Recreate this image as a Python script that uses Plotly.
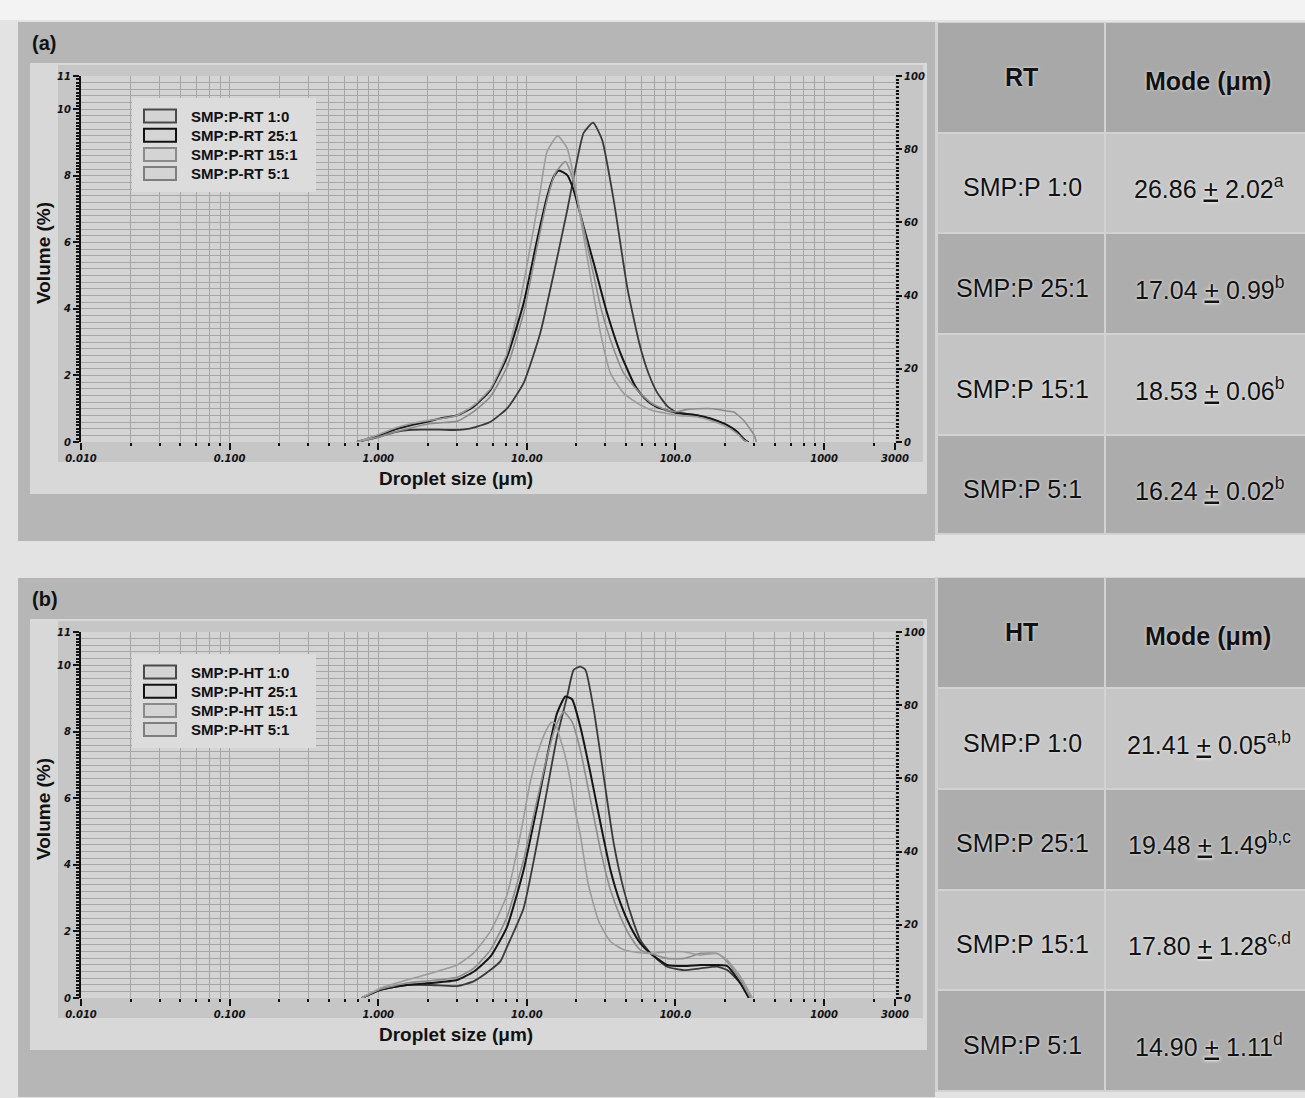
import numpy as np
import plotly.graph_objects as go

W, H = 1305, 1098

# ---------------- data ----------------
series_names = ["1:0", "25:1", "15:1", "5:1"]

# Panel (a) RT droplet size distributions (x: um, y: volume %)
rt_10_x = [0.72, 1.0, 1.3, 1.6, 2.0, 2.6, 3.2, 3.8, 4.5, 5.7, 7.4, 9.5, 12.3, 15.2, 18.7, 21.8, 24.1, 27.9,
           32.1, 38.4, 47.3, 53, 58, 66, 75, 88, 103, 140, 172, 223, 260, 289, 312]
rt_10_y = [0, 0.15, 0.3, 0.36, 0.37, 0.37, 0.36, 0.38, 0.45, 0.61, 1.02, 1.77, 3.27, 5.08, 6.97, 8.48, 9.29, 9.6,
           9.08, 7.27, 4.66, 3.6, 2.85, 2.05, 1.5, 1.08, 0.88, 0.81, 0.71, 0.51, 0.31, 0.06, 0]

rt_251_x = [0.72, 1.0, 1.3, 1.65, 2.2, 2.62, 3.4, 4.38, 5.68, 7.36, 9.51, 11.72, 13.68, 15.15, 16.37, 18.66,
            20.65, 24.1, 28.2, 34.7, 42.6, 52.4, 58, 66, 75, 88, 100, 140, 172, 223, 260, 290, 305]
rt_251_y = [0, 0.2, 0.38, 0.5, 0.62, 0.71, 0.8, 1.06, 1.56, 2.56, 4.17, 6.07, 7.37, 7.97, 8.16, 8.03,
            7.57, 6.47, 5.37, 3.87, 2.67, 1.76, 1.46, 1.2, 1.05, 0.95, 0.88, 0.8, 0.7, 0.5, 0.3, 0.08, 0]

rt_151_x = [0.72, 1.0, 1.3, 1.65, 2.2, 2.62, 3.4, 4.38, 5.68, 7.36, 9.51, 11.72, 13.68, 15.56, 18.16, 20.15,
            22.9, 26.8, 31.3, 36.5, 44.9, 58, 70, 88, 103, 120, 140, 180, 223, 247, 289, 339, 350]
rt_151_y = [0, 0.15, 0.3, 0.42, 0.55, 0.58, 0.62, 0.91, 1.36, 2.26, 3.87, 5.87, 7.27, 8.08, 8.43, 7.97,
            6.87, 5.47, 4.07, 3.07, 2.06, 1.46, 1.15, 0.95, 0.91, 0.98, 1.0, 1.0, 0.93, 0.9, 0.64, 0.2, 0]

rt_51_x = [0.72, 1.0, 1.3, 1.65, 2.2, 2.62, 3.4, 4.38, 5.68, 7.36, 9.04, 10.56, 12.33, 13.68, 16.11, 18.66,
           20.65, 22.9, 26.8, 31.3, 36.5, 44.9, 58, 70, 90, 103, 140, 172, 223, 260, 290, 305]
rt_51_y = [0, 0.22, 0.42, 0.55, 0.65, 0.7, 0.8, 1.1, 1.6, 2.67, 4.27, 5.87, 7.57, 8.73, 9.2, 8.83,
           7.97, 6.77, 4.97, 3.27, 2.07, 1.46, 1.11, 0.95, 0.85, 0.8, 0.75, 0.65, 0.45, 0.25, 0.05, 0]

# Panel (b) HT droplet size distributions
ht_10_x = [0.776, 1.03, 1.56, 2.24, 3.39, 4.38, 5.68, 6.63, 7.36, 9.51, 11.72, 13.68, 15.97, 18.66, 20.65,
           22.9, 24.8, 28.2, 32.9, 38.4, 44.9, 52.4, 58.1, 68, 88, 114, 147, 191, 223, 274, 312]
ht_10_y = [0, 0.24, 0.39, 0.39, 0.36, 0.5, 0.84, 1.1, 1.54, 2.7, 4.65, 6.25, 7.85, 9.06, 9.86,
           9.96, 9.86, 8.66, 6.65, 4.65, 3.25, 2.25, 1.74, 1.34, 0.94, 0.84, 0.89, 0.94, 0.84, 0.44, 0]

ht_251_x = [0.776, 1.03, 1.56, 2.24, 3.39, 4.38, 5.68, 7.36, 9.51, 11.72, 13.68, 15.97, 18.16, 20.15, 22.9,
            26.8, 31.3, 36.5, 42.6, 49.8, 58.1, 68, 88, 114, 147, 191, 223, 274, 312]
ht_251_y = [0, 0.24, 0.39, 0.45, 0.54, 0.79, 1.24, 2.14, 3.85, 5.75, 7.25, 8.56, 9.06, 8.98, 8.15,
            6.75, 5.25, 3.85, 2.85, 2.14, 1.64, 1.34, 0.99, 0.96, 0.99, 0.99, 0.96, 0.44, 0]

ht_151_x = [0.776, 1.03, 1.56, 2.24, 3.39, 4.38, 5.68, 7.36, 9.51, 11.72, 13.68, 15.56, 17.7, 20.15, 22.9,
            26.8, 31.3, 36.5, 42.6, 49.8, 58.1, 68, 88, 114, 147, 191, 223, 274, 320]
ht_151_y = [0, 0.26, 0.45, 0.52, 0.62, 0.89, 1.44, 2.44, 4.15, 5.95, 7.25, 8.15, 8.6, 8.3, 7.45,
            5.95, 4.45, 3.25, 2.44, 1.84, 1.44, 1.34, 1.19, 1.19, 1.34, 1.34, 1.09, 0.54, 0]

ht_51_x = [0.776, 1.03, 1.56, 2.24, 3.39, 4.38, 5.68, 7.36, 9.04, 10.56, 12.2, 13.7, 14.6, 15.5, 16.6, 17.8,
           19.5, 21.2, 22.9, 25.8, 30.5, 36.5, 44.9, 58, 68, 88, 114, 147, 191, 223, 274, 329]
ht_51_y = [0, 0.29, 0.54, 0.74, 0.99, 1.35, 2.0, 3.1, 4.9, 6.5, 7.55, 8.1, 8.28, 8.26, 7.85, 7.4,
           6.6, 5.6, 4.9, 3.45, 2.3, 1.7, 1.45, 1.36, 1.34, 1.39, 1.39, 1.29, 1.34, 1.14, 0.64, 0]

# Axis tick labels
x_tick_vals = [0.01, 0.1, 1, 10, 100, 1000, 3000]
x_tick_text = ["0.010", "0.100", "1.000", "10.00", "100.0", "1000", "3000"]
y_tick_vals = [0, 2, 4, 6, 8, 10, 11]
y_tick_text = ["0", "2", "4", "6", "8", "10", "11"]
y2_tick_vals = [0, 20, 40, 60, 80, 100]
y2_tick_text = ["0", "20", "40", "60", "80", "100"]

# Tables
rt_rows = ["SMP:P 1:0", "SMP:P 25:1", "SMP:P 15:1", "SMP:P 5:1"]
rt_mode = [26.86, 17.04, 18.53, 16.24]
rt_sd = [2.02, 0.99, 0.06, 0.02]
rt_sig = ["a", "b", "b", "b"]
ht_rows = ["SMP:P 1:0", "SMP:P 25:1", "SMP:P 15:1", "SMP:P 5:1"]
ht_mode = [21.41, 19.48, 17.80, 14.90]
ht_sd = [0.05, 1.49, 1.28, 1.11]
ht_sig = ["a,b", "b,c", "c,d", "d"]

# ---------------- styling ----------------
line_colors = ["#3a3a3a", "#151515", "#8c8c8c", "#9c9c9c"]
line_widths = [1.8, 2.0, 1.6, 1.6]
legend_box_colors = ["#4a4a4a", "#111111", "#8a8a8a", "#7e7e7e"]
grid_col = "#a6a6a6"
ink = "#111111"
tickfont = dict(family="DejaVu Sans", size=10, color=ink, weight="bold", style="italic")


def X(p):
    return p / W


def Y(p):
    return 1 - p / H


fig = go.Figure()

panels = [
    dict(xa="x", ya="y", y2="y2", y3="y3", data=[(rt_10_x, rt_10_y), (rt_251_x, rt_251_y),
                                                  (rt_151_x, rt_151_y), (rt_51_x, rt_51_y)], tag="RT"),
    dict(xa="x2", ya="y4", y2="y5", y3="y6", data=[(ht_10_x, ht_10_y), (ht_251_x, ht_251_y),
                                                    (ht_151_x, ht_151_y), (ht_51_x, ht_51_y)], tag="HT"),
]

for p in panels:
    for i, (xs, ys) in enumerate(p["data"]):
        fig.add_trace(go.Scatter(x=xs, y=ys, mode="lines", xaxis=p["xa"], yaxis=p["ya"],
                                 line=dict(color=line_colors[i], width=line_widths[i],
                                           shape="spline", smoothing=0.5),
                                 name=f"SMP:P-{p['tag']} {series_names[i]}", showlegend=False,
                                 hoverinfo="skip"))
    for ax in (p["y2"], p["y3"]):
        fig.add_trace(go.Scatter(x=[None], y=[None], xaxis=p["xa"], yaxis=ax, showlegend=False,
                                 hoverinfo="skip", mode="lines"))

# minor vertical grid positions (instrument-style spacing inside each decade)
x_minor = []
for d in range(-2, 4):
    for k in range(2, 8):
        v = 10 ** (d + np.log10(k) / np.log10(8))
        if v < 3000:
            x_minor.append(v)


def xaxis_cfg(domain_px):
    return dict(type="log", range=[-2, np.log10(3000)], domain=[X(domain_px[0]), X(domain_px[1])],
                tickmode="array", tickvals=x_tick_vals, ticktext=x_tick_text,
                ticks="outside", ticklen=7, tickwidth=1.5, tickcolor=ink, automargin=False,
                showgrid=True, gridcolor=grid_col, gridwidth=1, showline=False, zeroline=False,
                tickfont=tickfont, fixedrange=True,
                minor=dict(tickmode="array", tickvals=x_minor, ticks="outside", ticklen=3, tickwidth=2,
                           tickcolor=ink, showgrid=True, gridcolor=grid_col, gridwidth=1))


def yleft_cfg(top_px, bot_px, anchor):
    return dict(range=[0, 11], domain=[Y(bot_px), Y(top_px)], anchor=anchor,
                tickmode="array", tickvals=y_tick_vals, ticktext=y_tick_text, automargin=False,
                ticks="outside", ticklen=6, tickwidth=1.5, tickcolor=ink,
                showgrid=False, zeroline=False, showline=True, linecolor=ink, linewidth=2,
                tickfont=tickfont, fixedrange=True,
                minor=dict(tickmode="linear", tick0=0, dtick=0.1, ticks="outside", ticklen=3,
                           tickwidth=1.5, tickcolor=ink, showgrid=False))


def yright_cfg(over, anchor):
    return dict(range=[0, 100], overlaying=over, side="right", anchor=anchor, automargin=False,
                tickmode="array", tickvals=y2_tick_vals, ticktext=y2_tick_text,
                ticks="outside", ticklen=6, tickwidth=1.5, tickcolor=ink,
                showgrid=False, zeroline=False, showline=False, tickfont=tickfont, fixedrange=True,
                minor=dict(tickmode="linear", tick0=0, dtick=1, ticks="outside", ticklen=3,
                           tickwidth=2, tickcolor=ink, showgrid=False))


def ygrid_cfg(over, anchor):
    return dict(range=[0, 11], overlaying=over, side="left", anchor=anchor, automargin=False,
                tickmode="linear", tick0=0, dtick=0.2, ticks="", showticklabels=False,
                showgrid=True, gridcolor=grid_col, gridwidth=1, zeroline=False, showline=False,
                fixedrange=True)


fig.update_layout(
    width=W, height=H, margin=dict(l=0, r=0, t=0, b=0, pad=0, autoexpand=False),
    paper_bgcolor="#e3e3e3", plot_bgcolor="rgba(0,0,0,0)", showlegend=False,
    xaxis=xaxis_cfg((81, 895)),
    xaxis2=dict(xaxis_cfg((81, 895)), anchor="y4"),
    yaxis=yleft_cfg(76, 442, "x"),
    yaxis2=yright_cfg("y", "x"),
    yaxis3=ygrid_cfg("y", "x"),
    yaxis4=yleft_cfg(632, 998, "x2"),
    yaxis5=yright_cfg("y4", "x2"),
    yaxis6=ygrid_cfg("y4", "x2"),
)
fig.layout.xaxis.anchor = "y"

shapes = []
annotations = []


def rect(x0, y0, x1, y1, fill, line_color=None, line_width=0, layer="below"):
    shapes.append(dict(type="rect", xref="paper", yref="paper", x0=X(x0), x1=X(x1), y0=Y(y1), y1=Y(y0),
                       fillcolor=fill, layer=layer,
                       line=dict(color=line_color or fill, width=line_width)))


def text(x, y, s, size, bold=False, color=ink, xanchor="center", yanchor="middle", angle=0,
         family="Liberation Sans, Arial, sans-serif", shadow=None):
    f = dict(family=family, size=size, color=color, weight="bold" if bold else "normal")
    if shadow:
        f["shadow"] = shadow
    annotations.append(dict(x=X(x), y=Y(y), xref="paper", yref="paper", text=s, showarrow=False,
                            xanchor=xanchor, yanchor=yanchor, textangle=angle, font=f))


# page top band
rect(0, 0, W, 20, "#f3f3f3")

for k, p in enumerate(panels):
    off = 0 if k == 0 else 556
    # chart frame
    rect(18, 22 + off, 935, 541 + off, "#b6b6b6")
    rect(30, 63 + off, 927, 494 + off, "#d8d8d8")
    rect(58, 65 + off, 923, 462 + off, "#c6c6c6")
    rect(81, 76 + off, 895, 442 + off, "#d4d4d4")
    # texts
    text(30, 43 + off, "(a)" if k == 0 else "(b)", 20, bold=True, xanchor="left")
    text(43, 253 + off, "Volume (%)", 19, bold=True, angle=-90)
    text(456, 478 + off, "Droplet size (μm)", 19, bold=True)
    # legend
    lx0, lx1, ly0 = 132, 316, 98 + off
    rect(lx0, ly0, lx1, ly0 + 94, "#dcdcdc", layer="above")
    for i, nm in enumerate(series_names):
        cy = ly0 + 18 + i * 19.2
        rect(144, cy - 6.5, 176, cy + 6.5, "#d4d4d4", line_color=legend_box_colors[i], line_width=2,
             layer="above")
        text(189, cy, f"SMP:P-{p['tag']} {nm}", 15, bold=True, xanchor="left")

# tables
tables = [
    dict(head="RT", rows=rt_rows, mode=rt_mode, sd=rt_sd, sig=rt_sig,
         bounds=[23, 133, 233, 334, 435, 534]),
    dict(head="HT", rows=ht_rows, mode=ht_mode, sd=ht_sd, sig=ht_sig,
         bounds=[578, 688, 789, 890, 990, 1091]),
]
row_fills = ["#c6c6c6", "#adadad", "#c4c4c4", "#acacac"]
head_fill = "#a8a8a8"
border = "#d2d2d2"
c0, c1, c2 = 937, 1105, 1305
halo = "0px 0px 3px #efefef"
for t in tables:
    b = t["bounds"]
    rect(935, b[0] - 1, W, b[-1] + 1, border)
    rect(c0 + 1, b[0], c1 - 1, b[1] - 1, head_fill)
    rect(c1 + 1, b[0], c2, b[1] - 1, head_fill)
    text((c0 + c1) / 2, (b[0] + b[1]) / 2 - 1, t["head"], 25, bold=True, shadow=halo)
    text((c1 + c2) / 2 + 3, (b[0] + b[1]) / 2 + 3, "Mode (μm)", 25, bold=True, shadow=halo)
    for i in range(4):
        r0, r1 = b[i + 1], b[i + 2]
        rect(c0 + 1, r0 + 1, c1 - 1, r1 - 1, row_fills[i])
        rect(c1 + 1, r0 + 1, c2, r1 - 1, row_fills[i])
        cy = (r0 + r1) / 2 + 4
        text((c0 + c1) / 2 + 1, cy, t["rows"][i], 25, shadow=halo)
        text((c1 + c2) / 2 + 4, cy,
             f"{t['mode'][i]:.2f} <u>+</u> {t['sd'][i]:.2f}<sup>{t['sig'][i]}</sup>", 25, shadow=halo)

fig.update_layout(shapes=shapes, annotations=annotations)
fig.write_html("out.html", config={"displayModeBar": False},
               post_script="document.body.style.margin='0px';document.body.style.overflow='hidden';")
